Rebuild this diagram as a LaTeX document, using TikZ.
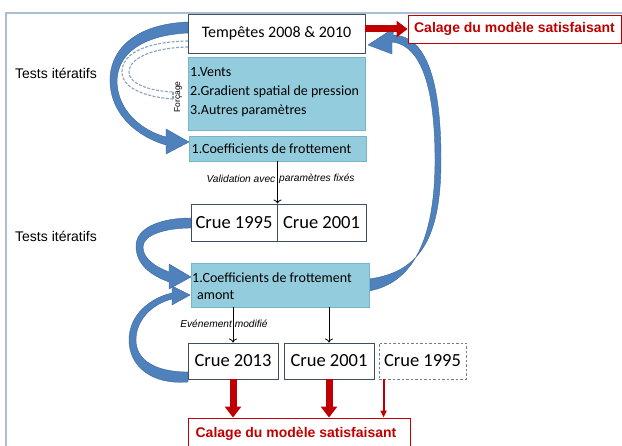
\documentclass[tikz,border=0pt]{standalone}
\usepackage{fontspec}
\setmainfont{Carlito}
\newfontfamily\arial{Liberation Sans}
\usetikzlibrary{arrows.meta}
\definecolor{framec}{HTML}{A9BED4}
\definecolor{boxedge}{HTML}{3E4E5E}
\definecolor{bluefill}{HTML}{93CDDD}
\definecolor{blueedge}{HTML}{7AB4CB}
\definecolor{arrowblue}{HTML}{4F81BD}
\definecolor{arrowedge}{HTML}{3A6799}
\definecolor{calred}{HTML}{C00000}
\definecolor{dashc}{HTML}{8CA3BE}
\definecolor{dashbox}{HTML}{6F7F90}
\begin{document}
\begin{tikzpicture}[x=1pt,y=-1pt,
  whitebox/.style={draw=boxedge, line width=0.9pt, fill=white, inner sep=0pt},
  dashbox/.style={draw=dashbox, dash pattern=on 2.5pt off 2pt, line width=0.9pt, fill=white, inner sep=0pt},
  bluebox/.style={draw=blueedge, line width=0.8pt, fill=bluefill, inner sep=0pt},
  redbox/.style={draw=calred, line width=0.9pt, fill=white, inner sep=0pt},
  redlabel/.style={text=calred, font=\arial\bfseries\fontsize{14}{16}\selectfont},
  boxtext/.style={anchor=base west, inner sep=0pt, font=\fontsize{14}{16}\selectfont},
  bigtext/.style={font=\fontsize{18.5}{22}\selectfont},
  smalllabel/.style={inner sep=0pt, font=\arial\itshape\fontsize{10.2}{12}\selectfont},
  sidelabel/.style={anchor=west, inner sep=0pt, font=\arial\fontsize{14}{16}\selectfont},
  redarrow/.style={draw=calred, line width=7pt, -{Triangle[width=16pt,length=11pt]}},
  thinred/.style={draw=calred, line width=2pt, -{Triangle[width=6pt,length=7pt]}},
  blackarrow/.style={draw=black, line width=0.8pt, -{To[length=4pt,width=8pt]}},
  bluearrow/.style={fill=arrowblue, draw=arrowedge, line width=0.4pt},
  dasharc/.style={draw=dashc, line width=1.1pt, dash pattern=on 3pt off 1.5pt}
]
\clip (0,0) rectangle (622,446);
\fill[white] (0,0) rectangle (622,446);
% frame
\draw[framec, line width=1.5pt] (6,447) -- (6,13) -- (623,13);

% dashed double arc (Forcage)
\draw[dasharc] (188,41) .. controls (140,42) and (122,56) .. (122,72) .. controls (122,88) and (145,97) .. (173,99);
\draw[dasharc] (188,47) .. controls (148,48) and (129,60) .. (129,72) .. controls (129,84) and (150,91) .. (173,92);
\draw[dasharc] (173,92) -- (173,99);

% blue curved arrow 1 (Tempetes -> coefficients)
\path[bluearrow] (188,22) .. controls (135,24) and (109,50) .. (110,82)
  .. controls (111,115) and (138,137) .. (166,145)
  -- (166,154) -- (189,142) -- (166,129) -- (166,137)
  .. controls (143,131) and (118,112) .. (117,82)
  .. controls (117,52) and (145,35) .. (188,33) -- cycle;

% blue curved arrow 2 (Crue pair -> amont)
\path[bluearrow] (191,218) .. controls (160,218) and (136,228) .. (136,246)
  .. controls (136,264) and (150,275) .. (169,282)
  -- (169,289) -- (191,277) -- (169,264) -- (169,272)
  .. controls (156,267) and (143,259) .. (143,247)
  .. controls (143,235) and (165,228) .. (191,228) -- cycle;

% blue curved arrow 3 (Crue 2013 -> amont)
\path[bluearrow] (188,382) .. controls (150,385) and (129,365) .. (129,340)
  .. controls (129,315) and (150,298) .. (172,293)
  -- (172,286) -- (190,295) -- (172,305) -- (172,299)
  .. controls (152,304) and (136,320) .. (136,340)
  .. controls (136,360) and (155,372) .. (188,372) -- cycle;

% blue curved arrow 4 (amont -> Tempetes)
\path[bluearrow] (369,279) .. controls (422,272) and (441,235) .. (441,160)
  .. controls (441,85) and (428,36) .. (393,35)
  -- (394,28) -- (368,45) -- (392,54) -- (392,42)
  .. controls (422,45) and (435,90) .. (435,160)
  .. controls (435,230) and (418,282) .. (369,291) -- cycle;

% boxes
\node[whitebox, minimum width=177pt, minimum height=39pt, font=\fontsize{16}{19}\selectfont] (tempetes) at (276.5,33.5) {Tempêtes 2008 \& 2010};
\node[bluebox, minimum width=177pt, minimum height=73pt] (forcage) at (276.5,93.5) {};
\node[boxtext] (v1) at (190,77) {1.Vents};
\node[boxtext] (v2) at (190,96) {2.Gradient spatial de pression};
\node[boxtext] (v3) at (190,115) {3.Autres paramètres};
\node[bluebox, minimum width=177pt, minimum height=25pt] (coef) at (277.5,148.5) {};
\node[boxtext] (coeftext) at (191.5,154) {1.Coefficients de frottement};

\node[whitebox, bigtext, minimum width=86pt, minimum height=37pt] (crueA) at (234,222.5) {Crue 1995};
\node[whitebox, bigtext, minimum width=89pt, minimum height=37pt] (crueB) at (321.5,222.5) {Crue 2001};

\node[bluebox, minimum width=178pt, minimum height=44pt] (amont) at (280,285) {};
\node[boxtext] (amont1) at (192,282.5) {1.Coefficients de frottement};
\node[boxtext] (amont2) at (197,300) {amont};

\node[whitebox, bigtext, minimum width=90pt, minimum height=36pt] (c2013) at (233,361) {Crue 2013};
\node[whitebox, bigtext, minimum width=90pt, minimum height=36pt] (c2001) at (329,361) {Crue 2001};
\node[dashbox, bigtext, minimum width=87pt, minimum height=36pt] (c1995) at (422.5,361) {Crue 1995};

\node[redbox, redlabel, minimum width=213pt, minimum height=28pt] (calageA) at (514.5,29) {Calage du modèle satisfaisant};
\node[redbox, minimum width=222pt, minimum height=44pt] (calageB) at (299,440) {};
\node[redlabel, anchor=base, inner sep=0pt] (calageBtext) at (296,438) {Calage du modèle satisfaisant};

% labels
\node[sidelabel] (tests1) at (15,73) {Tests itératifs};
\node[sidelabel] (tests2) at (15,236) {Tests itératifs};
\node[inner sep=0pt, rotate=90, font=\arial\fontsize{8.5}{10}\selectfont] (forc) at (178,97) {Forçage};
\node[smalllabel, anchor=east] (valA) at (275.5,179) {Validation avec};
\node[smalllabel, anchor=west] (valB) at (279,179) {paramètres fixés};
\node[smalllabel] (evt) at (224,324) {Evénement modifié};

% connectors
\draw[blackarrow] (coef.south) -- (coef.south |- crueA.north);
\draw[blackarrow] (amont.south -| c2013) -- (c2013.north);
\draw[blackarrow] (amont.south -| c2001) -- (c2001.north);

\draw[redarrow] (tempetes.east |- calageA) -- (calageA.west);
\draw[redarrow] (c2013.south) -- (c2013.south |- calageB.north);
\draw[redarrow] (c2001.south) -- (c2001.south |- calageB.north);
\coordinate (c1995foot) at ([xshift=5pt]c1995.south west);
\draw[thinred] (c1995foot) -- (c1995foot |- calageB.north);
\end{tikzpicture}
\end{document}
